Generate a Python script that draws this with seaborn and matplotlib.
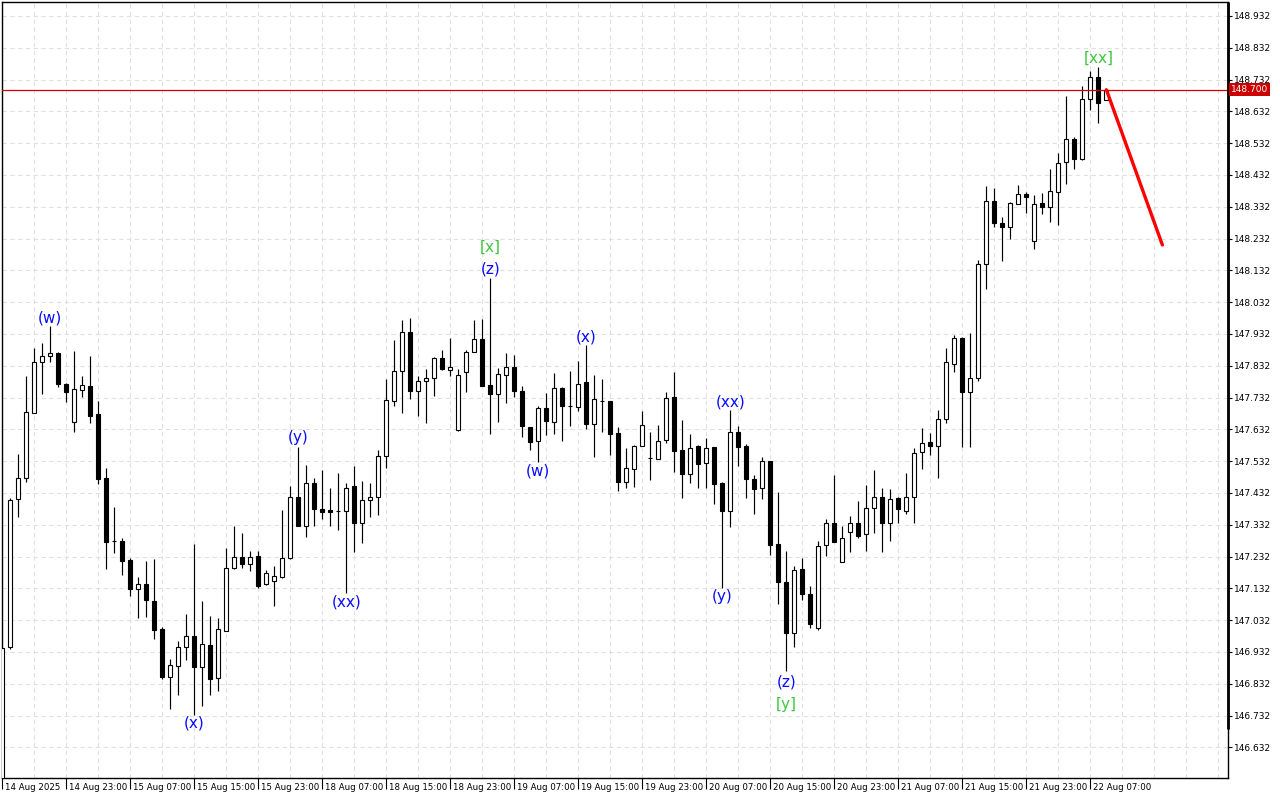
import numpy as np
import pandas as pd
import matplotlib
matplotlib.use("Agg")
import matplotlib.pyplot as plt
import matplotlib.transforms as mtransforms
import seaborn as sns

# ---------------- data (H1 bars) ----------------
opens = [146.450, 146.946, 147.412, 147.478, 147.684, 147.843, 147.862, 147.873, 147.775, 147.654,
         147.756, 147.768, 147.680, 147.478, 147.281, 147.281, 147.221, 147.131, 147.145, 147.093,
         147.005, 146.852, 146.888, 146.947, 146.982, 146.884, 146.954, 146.850, 146.999, 147.195,
         147.232, 147.207, 147.235, 147.145, 147.155, 147.167, 147.226, 147.420, 147.329, 147.462,
         147.381, 147.379, 147.376, 147.375, 147.454, 147.337, 147.409, 147.418, 147.547, 147.720,
         147.815, 147.937, 147.752, 147.783, 147.793, 147.857, 147.818, 147.630, 147.811, 147.874,
         147.916, 147.771, 147.742, 147.803, 147.829, 147.752, 147.639, 147.596, 147.698, 147.656,
         147.761, 147.706, 147.703, 147.780, 147.648, 147.722, 147.721, 147.620, 147.467, 147.506,
         147.579, 147.543, 147.538, 147.598, 147.733, 147.567, 147.490, 147.580, 147.525, 147.575,
         147.462, 147.374, 147.623, 147.580, 147.475, 147.446, 147.531, 147.272, 147.151, 146.992,
         147.192, 147.114, 147.007, 147.267, 147.337, 147.215, 147.308, 147.337, 147.302, 147.384,
         147.418, 147.337, 147.415, 147.376, 147.420, 147.560, 147.591, 147.581, 147.663, 147.837,
         147.918, 147.750, 147.795, 148.151, 148.349, 148.280, 148.268, 148.341, 148.372, 148.225,
         148.343, 148.330, 148.379, 148.472, 148.545, 148.481, 148.670, 148.739, 148.668]
highs = [146.945, 147.416, 147.554, 147.800, 147.887, 147.903, 147.957, 147.875, 147.778, 147.879,
         147.800, 147.863, 147.721, 147.510, 147.388, 147.289, 147.226, 147.169, 147.218, 147.225,
         147.009, 146.911, 146.965, 147.052, 147.272, 147.093, 147.046, 147.039, 147.258, 147.328,
         147.305, 147.249, 147.249, 147.190, 147.202, 147.379, 147.454, 147.577, 147.520, 147.478,
         147.504, 147.447, 147.496, 147.464, 147.517, 147.470, 147.464, 147.567, 147.791, 147.913,
         147.976, 147.981, 147.800, 147.821, 147.860, 147.882, 147.920, 147.823, 147.882, 147.976,
         147.979, 148.107, 147.824, 147.872, 147.866, 147.768, 147.639, 147.705, 147.746, 147.808,
         147.766, 147.816, 147.847, 147.897, 147.803, 147.790, 147.721, 147.640, 147.574, 147.583,
         147.690, 147.623, 147.645, 147.749, 147.813, 147.661, 147.616, 147.583, 147.605, 147.575,
         147.467, 147.693, 147.642, 147.585, 147.488, 147.545, 147.531, 147.434, 147.249, 147.202,
         147.226, 147.139, 147.281, 147.349, 147.488, 147.328, 147.360, 147.407, 147.457, 147.504,
         147.447, 147.444, 147.418, 147.494, 147.572, 147.635, 147.620, 147.693, 147.887, 147.929,
         147.923, 147.934, 148.165, 148.398, 148.390, 148.299, 148.346, 148.401, 148.379, 148.369,
         148.375, 148.451, 148.500, 148.680, 148.552, 148.712, 148.759, 148.772, 148.700]
lows = [146.400, 146.942, 147.357, 147.467, 147.682, 147.743, 147.845, 147.764, 147.719, 147.624,
        147.734, 147.653, 147.460, 147.194, 147.244, 147.174, 147.109, 147.040, 147.043, 146.973,
        146.848, 146.754, 146.797, 146.906, 146.734, 146.762, 146.798, 146.808, 146.997, 147.194,
        147.196, 147.187, 147.132, 147.142, 147.075, 147.166, 147.224, 147.329, 147.295, 147.329,
        147.350, 147.329, 147.316, 147.117, 147.247, 147.274, 147.357, 147.363, 147.512, 147.705,
        147.684, 147.727, 147.675, 147.653, 147.738, 147.819, 147.801, 147.628, 147.750, 147.874,
        147.769, 147.616, 147.655, 147.716, 147.734, 147.609, 147.567, 147.529, 147.614, 147.616,
        147.595, 147.643, 147.689, 147.632, 147.546, 147.623, 147.551, 147.439, 147.447, 147.452,
        147.579, 147.473, 147.538, 147.590, 147.499, 147.417, 147.464, 147.449, 147.449, 147.398,
        147.132, 147.324, 147.517, 147.417, 147.365, 147.412, 147.236, 147.082, 146.871, 146.947,
        147.094, 147.007, 147.002, 147.235, 147.277, 147.215, 147.247, 147.291, 147.250, 147.307,
        147.247, 147.282, 147.339, 147.365, 147.337, 147.508, 147.551, 147.478, 147.653, 147.813,
        147.576, 147.578, 147.784, 148.073, 148.269, 148.163, 148.230, 148.341, 148.313, 148.199,
        148.310, 148.285, 148.275, 148.404, 148.451, 148.479, 148.636, 148.594, 148.668]
closes = [146.945, 147.410, 147.478, 147.685, 147.843, 147.862, 147.872, 147.774, 147.749, 147.758,
          147.771, 147.675, 147.476, 147.279, 147.280, 147.219, 147.131, 147.145, 147.094, 147.002,
          146.854, 146.891, 146.947, 146.982, 146.886, 146.957, 146.848, 147.004, 147.195, 147.232,
          147.207, 147.232, 147.140, 147.181, 147.170, 147.226, 147.420, 147.329, 147.462, 147.381,
          147.373, 147.373, 147.376, 147.448, 147.337, 147.409, 147.418, 147.547, 147.724, 147.815,
          147.937, 147.752, 147.783, 147.793, 147.857, 147.821, 147.827, 147.803, 147.874, 147.916,
          147.769, 147.742, 147.805, 147.829, 147.752, 147.641, 147.593, 147.698, 147.659, 147.761,
          147.706, 147.706, 147.776, 147.648, 147.726, 147.722, 147.618, 147.467, 147.509, 147.580,
          147.645, 147.543, 147.596, 147.730, 147.565, 147.492, 147.572, 147.522, 147.572, 147.459,
          147.374, 147.623, 147.577, 147.475, 147.443, 147.534, 147.269, 147.151, 146.992, 147.190,
          147.114, 147.020, 147.264, 147.337, 147.277, 147.289, 147.337, 147.298, 147.384, 147.420,
          147.337, 147.412, 147.381, 147.420, 147.559, 147.590, 147.581, 147.663, 147.843, 147.918,
          147.750, 147.792, 148.151, 148.351, 148.280, 148.268, 148.343, 148.371, 148.362, 148.340,
          148.330, 148.382, 148.470, 148.545, 148.481, 148.670, 148.739, 148.657, 148.700]

time_labels = ["14 Aug 2025", "14 Aug 23:00", "15 Aug 07:00", "15 Aug 15:00", "15 Aug 23:00",
               "18 Aug 07:00", "18 Aug 15:00", "18 Aug 23:00", "19 Aug 07:00", "19 Aug 15:00",
               "19 Aug 23:00", "20 Aug 07:00", "20 Aug 15:00", "20 Aug 23:00", "21 Aug 07:00",
               "21 Aug 15:00", "21 Aug 23:00", "22 Aug 07:00"]
time_label_bars = [0, 8, 16, 24, 32, 40, 48, 56, 64, 72, 80, 88, 96, 104, 112, 120, 128, 136]

price_ticks = [148.932, 148.832, 148.732, 148.632, 148.532, 148.432, 148.332, 148.232, 148.132,
               148.032, 147.932, 147.832, 147.732, 147.632, 147.532, 147.432, 147.332, 147.232,
               147.132, 147.032, 146.932, 146.832, 146.732, 146.632]

current_price = 148.700
forecast_bars = [138, 145]
forecast_prices = [148.700, 148.212]

wave_text = ["(w)", "(x)", "(y)", "(xx)", "[x]", "(z)", "(w)", "(x)", "(xx)", "(y)", "(z)", "[y]", "[xx]"]
wave_bar = [6, 24, 37, 43, 61, 61, 67, 73, 91, 90, 98, 98, 137]
wave_price = [147.982, 146.709, 147.605, 147.089, 148.206, 148.136, 147.501, 147.923, 147.718,
              147.105, 146.838, 146.768, 148.800]
wave_major = [False, False, False, False, True, False, False, False, False, False, False, True, True]

# ---------------- figure ----------------
sns.set_theme(style="white")
plt.rcParams['font.family'] = ['DejaVu Sans']

fig = plt.figure(figsize=(12.8, 8), dpi=100)
fig.patch.set_facecolor("white")
ax = fig.add_axes([2 / 1280, 22 / 800, 1226 / 1280, 776 / 800])
ax.set_facecolor("white")

df = pd.DataFrame({"o": opens, "h": highs, "l": lows, "c": closes})
df["bar"] = np.arange(len(df))
df["bull"] = df["c"] >= df["o"]

ymin, ymax = 146.5355, 148.976
ax.set_xlim(-0.04, 153.2)
ax.set_ylim(ymin, ymax)

# grid
grid_kw = dict(color="#e0e0e0", lw=0.8, ls=(0, (4, 3)), zorder=0)
for gx in range(0, 154, 4):
    ax.axvline(gx, **grid_kw)
for gy in price_ticks:
    ax.axhline(gy, **grid_kw)

# wicks
ax.vlines(df["bar"], df["l"], df["h"], color="black", lw=0.85, zorder=2)
# bodies
bottoms = np.minimum(df["o"], df["c"])
heights = np.maximum(np.abs(df["c"] - df["o"]), 0.0004)
faces = np.where(df["bull"], "white", "black")
ax.bar(df["bar"], heights, bottom=bottoms, width=0.5, color=faces,
       edgecolor="black", linewidth=0.8, zorder=3)

# current price line
ax.axhline(current_price, color="#d00000", lw=0.9, zorder=4)

# forecast line
sns.lineplot(x=forecast_bars, y=forecast_prices, ax=ax, color="#ff0000", lw=2.4, zorder=5)

# wave labels
for t, b, p, major in zip(wave_text, wave_bar, wave_price, wave_major):
    ax.text(b, p, t, ha="center", va="center", fontsize=11,
            color=("#3cc83c" if major else "#0a0aff"), zorder=6)

# axes frame
for s in ax.spines.values():
    s.set_visible(True)
    s.set_color("black")
    s.set_linewidth(1.0)

# right price axis
ax.yaxis.tick_right()
ax.set_yticks(price_ticks)
ax.set_yticklabels([f"{v:.3f}" for v in price_ticks])
ax.tick_params(axis="y", direction="out", length=3, width=0.8, pad=1.5,
               labelsize=6.5, colors="black", right=True, left=False)
blend_y = mtransforms.blended_transform_factory(ax.transAxes, ax.transData)
ax.plot([1.0, 1.0], [146.69, ymax], transform=blend_y, color="black", lw=2.0,
        clip_on=False, zorder=7, solid_capstyle="butt")

# current price tag
ax.text(1.0, current_price, "148.700",
        transform=blend_y + mtransforms.ScaledTranslation(3 / 100, 0, fig.dpi_scale_trans),
        ha="left", va="center", fontsize=6.5, color="white",
        bbox=dict(boxstyle="square,pad=0.2", fc="#cc0000", ec="none"), clip_on=False, zorder=8)

# time axis
ax.set_xticks(time_label_bars)
ax.set_xticklabels([])
ax.tick_params(axis="x", direction="out", length=8, width=0.8, bottom=True, colors="black")
blend_x = mtransforms.blended_transform_factory(ax.transData, ax.transAxes)
off = mtransforms.ScaledTranslation(3 / 100, -5 / 100, fig.dpi_scale_trans)
for b, lab in zip(time_label_bars, time_labels):
    ax.text(b, 0, lab, transform=blend_x + off, ha="left", va="top", fontsize=6.2,
            color="black", clip_on=False)

ax.set_xlabel("")
ax.set_ylabel("")
fig.savefig("out.png", dpi=100, facecolor="white")
